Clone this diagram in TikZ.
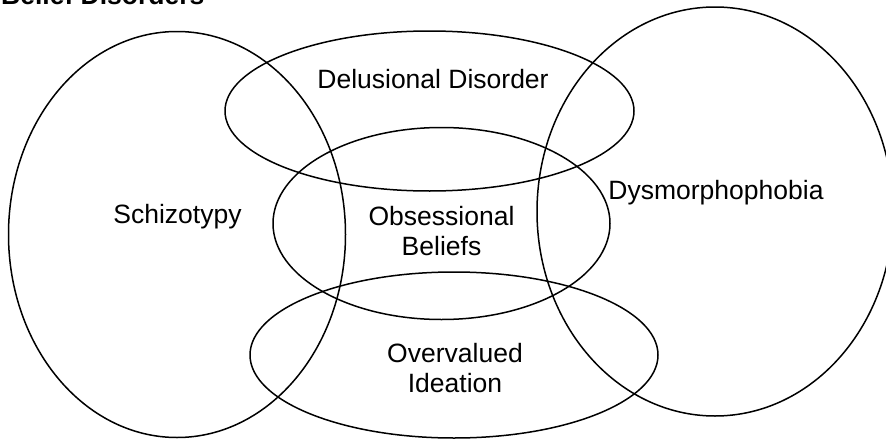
\documentclass[tikz,border=0pt]{standalone}
\usepackage{fontspec}
\setmainfont{Liberation Sans}
\usetikzlibrary{positioning}

\tikzset{
  venn/.style={draw, line width=1.5pt},
  lbl/.style={inner sep=0pt, anchor=base, align=center,
    font=\fontsize{26.5}{30}\selectfont}
}

\begin{document}
\begin{tikzpicture}[x=1pt, y=-1pt]
      \useasboundingbox (0, 0) rectangle (886, 439);

        % Centres of the sets
        \coordinate (schizo) at (177, 234.5);
        \coordinate (delus)  at (429.5, 111);
        \coordinate (obsess) at (441.5, 223.5);
        \coordinate (overv)  at (454, 355);
        \coordinate (dysmo)  at (715, 211.5);

        \draw[venn] (schizo) ellipse [x radius=168.5pt, y radius=203pt];
        \draw[venn] (delus)  ellipse [x radius=204.5pt, y radius=80pt];
        \draw[venn] (obsess) ellipse [x radius=168.5pt, y radius=96pt];
        \draw[venn] (overv)  ellipse [x radius=204pt, y radius=83pt];
        \draw[venn] (dysmo)  ellipse [x radius=178pt, y radius=204.5pt];

        % Labels (base = last line)
        \node[lbl, anchor=base west, font=\fontsize{26.5}{30}\selectfont\bfseries] (title) at (1, 5) {Belief Disorders};

        \node[lbl] (delusL)  at (433, 88)    {Delusional Disorder};
        \node[lbl] (schizoL) at (177.5, 223) {Schizotypy};
        \node[lbl] (obsessL) at (441.5, 255) {Obsessional\\Beliefs};
        \node[lbl] (overvL)  at (455, 392)   {Overvalued\\Ideation};
        \node[lbl] (dysmoL)  at (716, 199)   {Dysmorphophobia};

\end{tikzpicture}
\end{document}
